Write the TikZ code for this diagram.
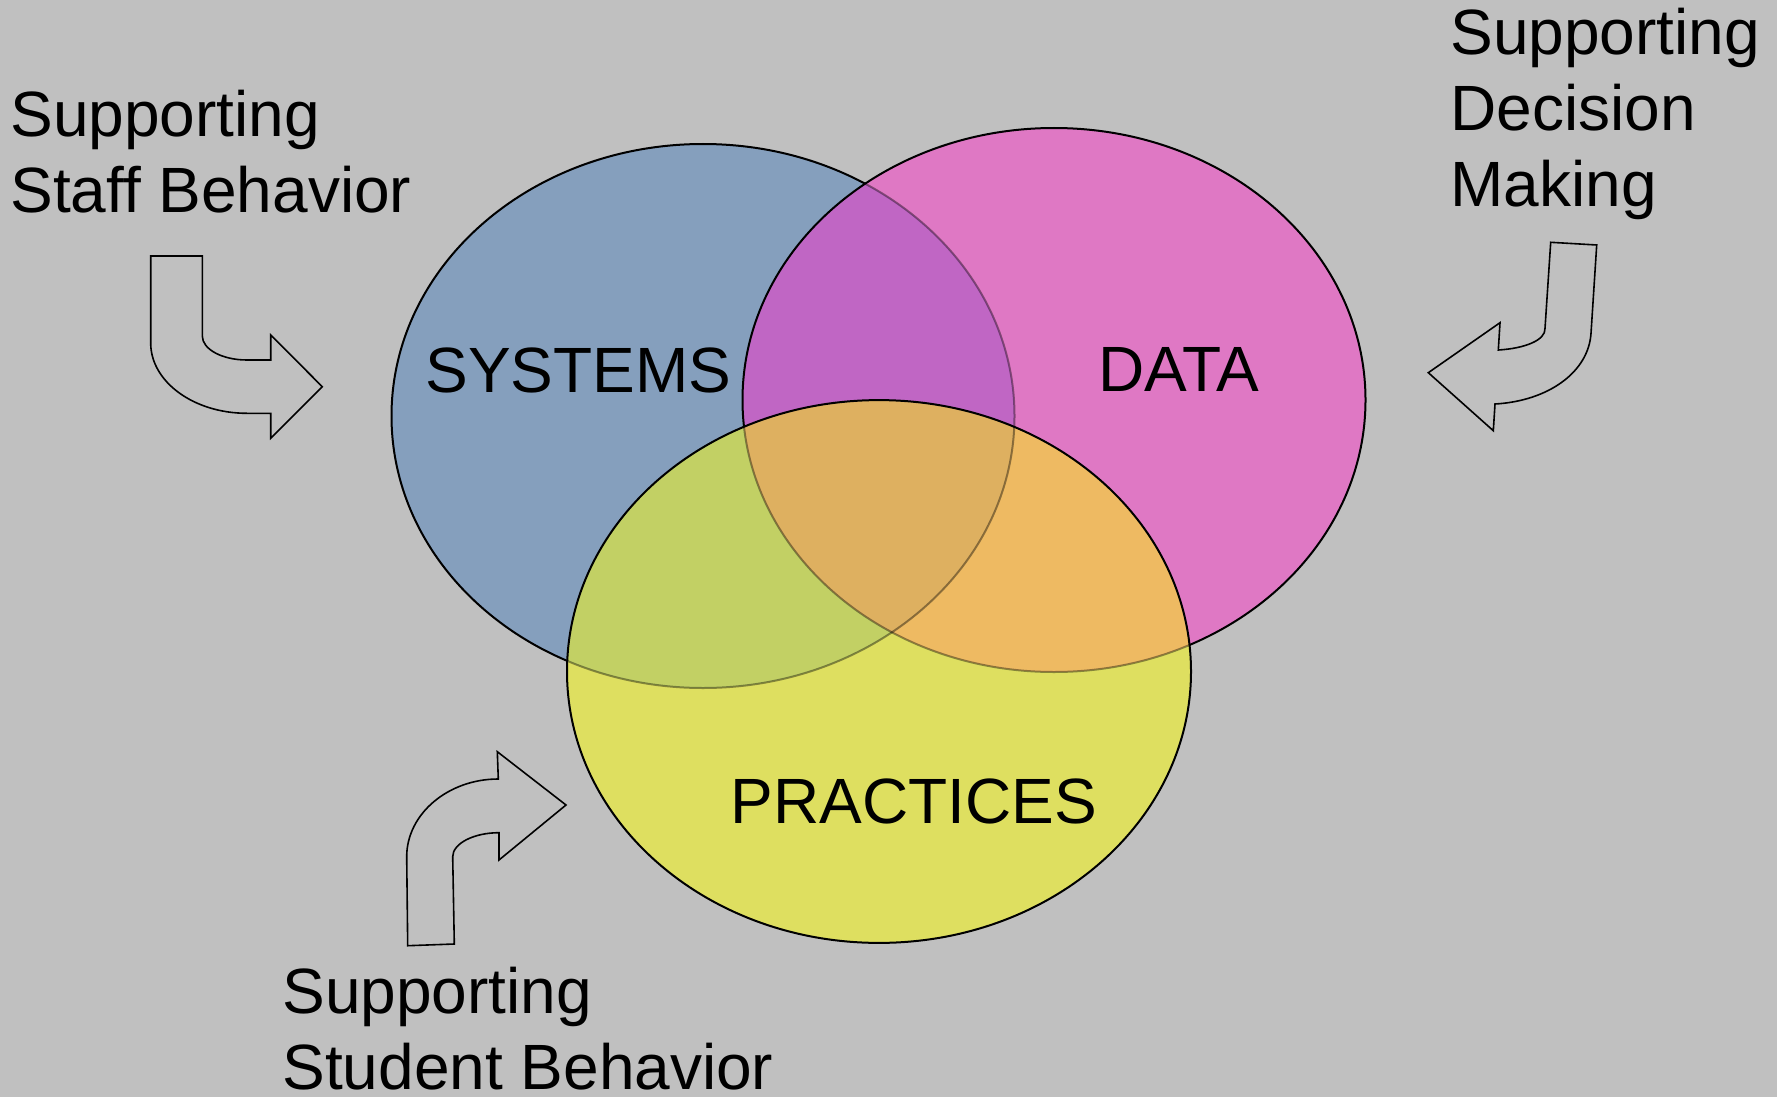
\documentclass[tikz,border=0pt]{standalone}
\usepackage{fontspec}
\setmainfont{Liberation Sans}
\definecolor{bggray}{RGB}{192,192,192}
\definecolor{cS}{RGB}{133,159,189}
\definecolor{cD}{RGB}{223,120,196}
\definecolor{cSD}{RGB}{192,102,196}
\definecolor{cP}{RGB}{222,223,96}
\definecolor{cSP}{RGB}{194,208,100}
\definecolor{cDP}{RGB}{238,186,98}
\definecolor{cSDP}{RGB}{222,176,96}
\begin{document}
\begin{tikzpicture}[x=0.5pt,y=-0.5pt,
  lab/.style={inner sep=0pt, anchor=base west, font=\fontsize{32}{38}\selectfont},
  big/.style={inner sep=0pt, anchor=base, font=\fontsize{32}{38}\selectfont},
  barrow/.style={draw=black, line width=0.8pt, line join=miter},
  ring/.style={draw=black, line width=1pt},
  dimring/.style={draw=black, line width=1pt, opacity=0.4}]
\useasboundingbox (0,0) rectangle (1777,1097);
\fill[bggray] (0,0) rectangle (1777,1097);
\def\pS{(703,416) ellipse [x radius=155.75pt, y radius=136pt]}
\def\pD{(1054,400) ellipse [x radius=155.75pt, y radius=136pt]}
\def\pP{(879,671.5) ellipse [x radius=156pt, y radius=135.7pt]}
% SYSTEMS
\fill[cS] \pS;
\path[ring] \pS;
% DATA
\fill[cD] \pD;
\begin{scope}
  \clip \pS;
  \fill[cSD] \pD;
\end{scope}
\begin{scope}
  \clip \pD;
  \path[dimring] \pS;
\end{scope}
\path[ring] \pD;
% PRACTICES
\fill[cP] \pP;
\begin{scope}
  \clip \pP;
  \fill[cSP] \pS;
  \fill[cDP] \pD;
  \clip \pS;
  \fill[cSDP] \pD;
\end{scope}
\begin{scope}
  \clip \pP;
  \path[dimring] \pS;
  \path[dimring] \pD;
\end{scope}
\path[ring] \pP;
% circle labels
\node[big] (sys) at (578.5,392) {SYSTEMS};
\node[big] (dat) at (1179,391) {DATA};
\node[big] (pra) at (914,823) {PRACTICES};
% outer labels
\node[lab] (staff) at (10,136) {\vtop{\hbox{Supporting}\hbox{Staff Behavior}}};
\node[lab] (dec) at (1450,55) {\vtop{\hbox{Supporting}\hbox{Decision}\hbox{Making}}};
\node[lab] (stud) at (282,1013) {\vtop{\hbox{Supporting}\hbox{Student Behavior}}};
% bent arrows
\draw[barrow] (150.7,256) -- (202.3,256) -- (202.3,336)
  .. controls (202.3,349.3) and (222.3,360) .. (247,360)
  -- (270.7,360) -- (270.7,335) -- (322.3,386.7) -- (270.7,438.3)
  -- (270.7,413.3) -- (247,413.3)
  .. controls (193.8,413.3) and (150.7,381.8) .. (150.7,343) -- cycle;
\draw[barrow] (1550.7,242.3) -- (1596.7,245) -- (1591,333.3)
  .. controls (1588.5,372.3) and (1548,401) .. (1495,404)
  -- (1493.3,430.7) -- (1428.3,372.7) -- (1500,322.7) -- (1498.3,350)
  .. controls (1524.3,348.5) and (1545.8,340.3) .. (1545,328.3) -- cycle;
\draw[barrow] (407.7,945.7) -- (406.7,856.7)
  .. controls (406.7,814) and (448,779) .. (498.3,779)
  -- (497.3,751.7) -- (566,805) -- (499,860) -- (499,832.7)
  .. controls (473.7,832.7) and (452.7,843.5) .. (452.7,856.7)
  -- (454.3,944) -- cycle;
\end{tikzpicture}
\end{document}
